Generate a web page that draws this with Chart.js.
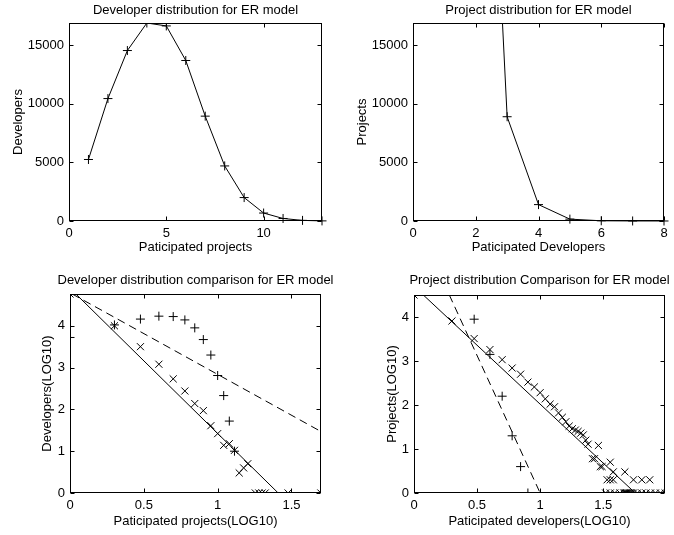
<!DOCTYPE html>
<html>
<head>
<meta charset="utf-8">
<script src="https://cdn.jsdelivr.net/npm/chart.js@4.4.0/dist/chart.umd.min.js"></script>
<style>
  body { margin: 0; background: #fff; }
  #wrap { position: relative; width: 674px; height: 535px; }
  .cell { position: absolute; }
</style>
</head>
<body>
<div id="wrap">
  <div class="cell" style="left:0;top:0;width:337px;height:258px"><canvas id="c1"></canvas></div>
  <div class="cell" style="left:337px;top:0;width:337px;height:258px"><canvas id="c2"></canvas></div>
  <div class="cell" style="left:0;top:258px;width:337px;height:277px"><canvas id="c3"></canvas></div>
  <div class="cell" style="left:337px;top:258px;width:337px;height:277px"><canvas id="c4"></canvas></div>
</div>
<script>
// developer distribution (ER model)
const devProjects = [1, 2, 3, 4, 5, 6, 7, 8, 9, 10, 11, 12, 13];
const devCounts = [5250, 10450, 14550, 16900, 16650, 13700, 8950, 4700, 2000, 680, 215, 52, 10];

// project distribution (ER model), first point runs off the top
const projDevelopers = [2, 3, 4, 5, 6, 7, 8];
const projCounts = [63000, 8900, 1400, 160, 20, 4, 1];

// developer comparison, log10
const devErLogX = [0, 0.301, 0.477, 0.602, 0.699, 0.778, 0.845, 0.903, 0.954, 1.0, 1.041, 1.079, 1.114];
const devErLogY = [3.72, 4.02, 4.16, 4.23, 4.22, 4.14, 3.95, 3.67, 3.30, 2.81, 2.33, 1.72, 1.0];
const devRealLogX = [0, 0.301, 0.477, 0.602, 0.699, 0.778, 0.845, 0.903, 0.954, 1.0, 1.041, 1.079, 1.114,
  1.146, 1.176, 1.204, 1.255, 1.279, 1.301, 1.322, 1.477, 1.699];
const devRealLogY = [4.76, 4.0, 3.50, 3.08, 2.73, 2.44, 2.14, 1.97, 1.61, 1.42, 1.14, 1.18, 1.02,
  0.48, 0.60, 0.70, 0, 0, 0, 0, 0, 0];
const devFitX = [0.04, 1.41];
const devFitY = [4.76, 0];
const devErFitX = [0.015, 1.7];
const devErFitY = [4.76, 1.47];

// project comparison, log10
const projErLogX = [0.477, 0.602, 0.699, 0.778, 0.845, 0.903];
const projErLogY = [3.95, 3.15, 2.20, 1.30, 0.60, 0];
const projRealLogX = [0, 0.301, 0.477, 0.602, 0.699, 0.778, 0.845, 0.903, 0.954, 1.0, 1.041, 1.079,
  1.114, 1.146, 1.176, 1.204, 1.230, 1.255, 1.279, 1.301, 1.322, 1.342, 1.362, 1.380, 1.462,
  1.415, 1.431, 1.477, 1.491, 1.556, 1.580, 1.672,
  1.531, 1.556, 1.580, 1.740, 1.806, 1.869,
  1.519, 1.556, 1.591, 1.633, 1.663, 1.672, 1.681, 1.690, 1.699, 1.708, 1.716, 1.724,
  1.740, 1.771, 1.806, 1.839, 1.875, 1.914, 1.954, 1.991];
const projRealLogY = [4.5, 3.91, 3.51, 3.26, 3.03, 2.84, 2.70, 2.52, 2.41, 2.28, 2.14, 2.02,
  1.96, 1.82, 1.72, 1.62, 1.52, 1.46, 1.43, 1.40, 1.36, 1.32, 1.20, 1.11, 1.08,
  0.78, 0.78, 0.60, 0.60, 0.70, 0.48, 0.48,
  0.30, 0.30, 0.30, 0.30, 0.30, 0.30,
  0, 0, 0, 0, 0, 0, 0, 0, 0, 0, 0, 0,
  0, 0, 0, 0, 0, 0, 0, 0];
const projFitX = [0.074, 1.754];
const projFitY = [4.5, 0];
const projErFitX = [0.28, 1.0];
const projErFitY = [4.5, 0];

// tick labels
const ticks1X = [0, 5, 10];
const ticks2X = [0, 2, 4, 6, 8];
const ticksCountY = [0, 5000, 10000, 15000];
const ticksLogX = [0, 0.5, 1, 1.5];
const ticksLogY = [0, 1, 2, 3, 4];

const FONT = { family: '"Liberation Sans", Arial, Helvetica, sans-serif', size: 13 };
Chart.defaults.color = '#000';
Chart.defaults.font = FONT;

function pts(xs, ys) {
  return xs.map((x, i) => ({ x: x, y: ys[i] }));
}

// box round the plot, inward ticks on all sides, and the title
const frame = {
  id: 'frame',
  afterDraw(chart, args, opts) {
    const ctx = chart.ctx;
    const a = chart.chartArea;
    const l = Math.round(a.left) + 0.5, r = Math.round(a.right) - 0.5;
    const t = Math.round(a.top) + 0.5, b = Math.round(a.bottom) - 0.5;
    ctx.save();
    ctx.strokeStyle = '#000';
    ctx.lineWidth = 1;
    ctx.strokeRect(l, t, r - l, b - t);
    ctx.beginPath();
    chart.scales.x.ticks.forEach(tk => {
      const px = Math.round(chart.scales.x.getPixelForValue(tk.value)) + 0.5;
      ctx.moveTo(px, b); ctx.lineTo(px, b - 4);
      ctx.moveTo(px, t); ctx.lineTo(px, t + 4);
    });
    chart.scales.y.ticks.forEach(tk => {
      const py = Math.round(chart.scales.y.getPixelForValue(tk.value)) + 0.5;
      ctx.moveTo(l, py); ctx.lineTo(l + 4, py);
      ctx.moveTo(r, py); ctx.lineTo(r - 4, py);
    });
    ctx.stroke();
    ctx.fillStyle = '#000';
    ctx.font = FONT.size + 'px ' + FONT.family;
    ctx.textAlign = 'center';
    ctx.textBaseline = 'middle';
    ctx.fillText(opts.text, (a.left + a.right) / 2, opts.y);
    ctx.restore();
  }
};

function axis(min, max, tickVals, label, pad, fixed, isX) {
  return {
    type: 'linear',
    min: min,
    max: max,
    grid: { display: false, drawTicks: false },
    border: { display: false },
    afterBuildTicks: s => { s.ticks = tickVals.map(v => ({ value: v })); },
    afterFit: s => { if (isX) s.height = fixed; else s.width = fixed; },
    ticks: {
      padding: 5,
      font: FONT,
      callback: v => String(Math.round(v * 10) / 10)
    },
    title: {
      display: true,
      text: label,
      font: FONT,
      padding: isX ? { top: 0, bottom: pad } : { top: pad, bottom: 0 }
    }
  };
}

function panel(id, o) {
  new Chart(document.getElementById(id), {
    type: 'scatter',
    data: { datasets: o.datasets },
    options: {
      responsive: true,
      maintainAspectRatio: false,
      animation: false,
      events: [],
      layout: { padding: { top: o.top, right: o.right, left: 0, bottom: 0 } },
      plugins: {
        legend: { display: false },
        tooltip: { enabled: false },
        frame: { text: o.title, y: o.titleY }
      },
      scales: {
        x: axis(o.xMin, o.xMax, o.xTicks, o.xLabel, o.xPad, o.xH, true),
        y: axis(o.yMin, o.yMax, o.yTicks, o.yLabel, o.yPad, o.yW, false)
      }
    },
    plugins: [frame]
  });
}

function markers(data, style, r) {
  return {
    data: data, showLine: false, pointStyle: style, pointRadius: r,
    pointBorderColor: '#000', pointBackgroundColor: 'rgba(0,0,0,0)', pointBorderWidth: 1
  };
}

function fitLine(data, dash) {
  return {
    data: data, showLine: true, pointRadius: 0, borderColor: '#000',
    borderWidth: 1, borderDash: dash
  };
}

function curve(data) {
  return {
    data: data, showLine: true, borderColor: '#000', borderWidth: 1,
    pointStyle: 'cross', pointRadius: 4.5, pointBorderColor: '#000', pointBorderWidth: 1,
    clip: { left: 6, top: 0, right: 6, bottom: 6 }
  };
}

panel('c1', {
  title: 'Developer distribution for ER model', titleY: 10.5,
  top: 23, right: 15, xH: 37, yW: 69, xPad: 2.5, yPad: 10.5,
  xMin: 0, xMax: 13, xTicks: ticks1X, xLabel: 'Paticipated projects',
  yMin: 0, yMax: 16900, yTicks: ticksCountY, yLabel: 'Developers',
  datasets: [curve(pts(devProjects, devCounts))]
});

panel('c2', {
  title: 'Project distribution for ER model', titleY: 10.5,
  top: 23, right: 10, xH: 37, yW: 76, xPad: 2.5, yPad: 17.7,
  xMin: 0, xMax: 8, xTicks: ticks2X, xLabel: 'Paticipated Developers',
  yMin: 0, yMax: 16900, yTicks: ticksCountY, yLabel: 'Projects',
  datasets: [curve(pts(projDevelopers, projCounts))]
});

panel('c3', {
  title: 'Developer distribution comparison for ER model', titleY: 22,
  top: 36, right: 16, xH: 42, yW: 70, xPad: 5.5, yPad: 40,
  xMin: 0, xMax: 1.7, xTicks: ticksLogX, xLabel: 'Paticipated projects(LOG10)',
  yMin: 0, yMax: 4.76, yTicks: ticksLogY, yLabel: 'Developers(LOG10)',
  datasets: [
    fitLine(pts(devFitX, devFitY), []),
    fitLine(pts(devErFitX, devErFitY), [8, 5]),
    markers(pts(devErLogX, devErLogY), 'cross', 4.5),
    markers(pts(devRealLogX, devRealLogY), 'crossRot', 5)
  ]
});

panel('c4', {
  title: 'Project distribution Comparison for ER model', titleY: 22,
  top: 37, right: 9, xH: 42, yW: 77, xPad: 5.5, yPad: 47.7,
  xMin: 0, xMax: 1.99, xTicks: ticksLogX, xLabel: 'Paticipated developers(LOG10)',
  yMin: 0, yMax: 4.5, yTicks: ticksLogY, yLabel: 'Projects(LOG10)',
  datasets: [
    fitLine(pts(projFitX, projFitY), []),
    fitLine(pts(projErFitX, projErFitY), [8, 5]),
    markers(pts(projErLogX, projErLogY), 'cross', 4.5),
    markers(pts(projRealLogX, projRealLogY), 'crossRot', 5)
  ]
});
</script>
</body>
</html>
